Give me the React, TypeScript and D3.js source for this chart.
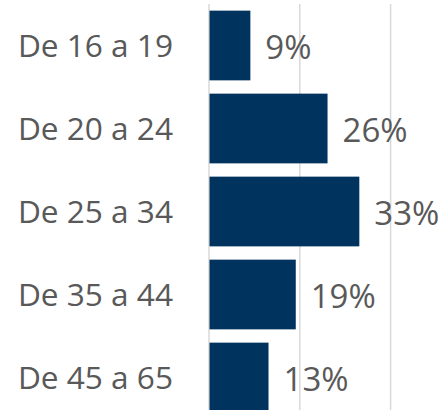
import React from "react";
import * as d3 from "d3";

const categories = ["De 16 a 19", "De 20 a 24", "De 25 a 34", "De 35 a 44", "De 45 a 65"];
const values = [9, 26, 33, 19, 13];
const gridTicks = [0, 20, 40];

const W = 443;
const H = 410;

export default function App() {
  const x = d3.scaleLinear().domain([0, 40]).range([209, 390.6]);
  const y = d3
    .scaleBand<string>()
    .domain(categories)
    .range([4, 419])
    .paddingInner(0.16)
    .paddingOuter(0.08);

  const textColor = "#595959";
  const barColor = "#01335F";
  const font = "'Open Sans', sans-serif";

  return (
    <svg
      width={W}
      height={H}
      style={{ position: "absolute", left: 0, top: 0, background: "#fff" }}
    >
      {gridTicks.map((t) => (
        <line
          key={t}
          x1={x(t)}
          x2={x(t)}
          y1={4}
          y2={H}
          stroke="#D9D9D9"
          strokeWidth={1.5}
        />
      ))}
      {categories.map((c, i) => {
        const y0 = y(c)!;
        const bw = y.bandwidth();
        const cy = y0 + bw / 2;
        return (
          <g key={c}>
            <rect
              x={x(0) + 0.5}
              y={y0}
              width={x(values[i]) - x(0)}
              height={bw}
              fill={barColor}
            />
            <text
              x={173}
              y={cy + 11.2}
              textAnchor="end"
              fontFamily={font}
              fontSize={31.6}
              fill={textColor}
            >
              {c}
            </text>
            <text
              x={x(values[i]) + 15.5}
              y={cy + 13}
              textAnchor="start"
              fontFamily={font}
              fontSize={33}
              fill={textColor}
            >
              {values[i]}%
            </text>
          </g>
        );
      })}
    </svg>
  );
}
